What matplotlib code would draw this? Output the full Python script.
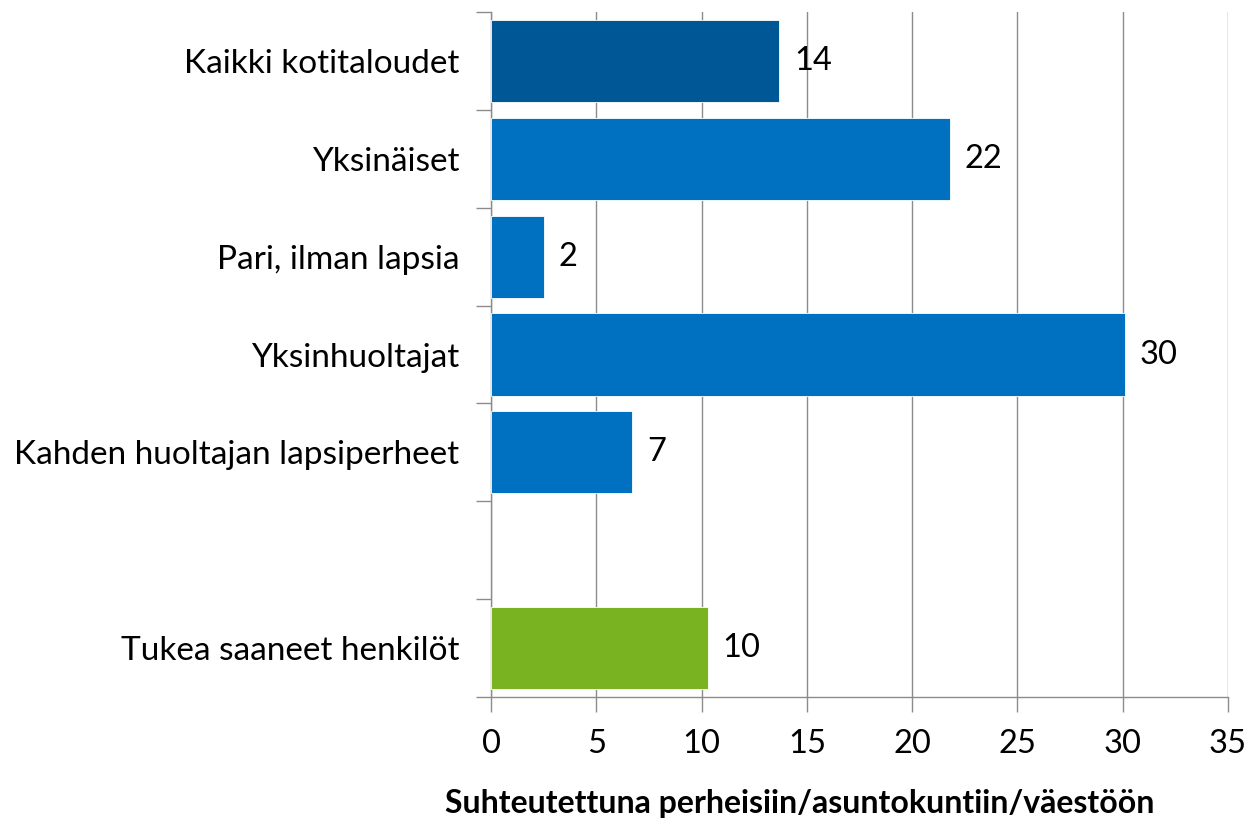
import numpy as np
import matplotlib
matplotlib.use('Agg')
import matplotlib.pyplot as plt

# Chart data
categories = ['Kaikki kotitaloudet', 'Yksinäiset', 'Pari, ilman lapsia',
              'Yksinhuoltajat', 'Kahden huoltajan lapsiperheet', '',
              'Tukea saaneet henkilöt']
values = [13.7, 21.8, 2.5, 30.1, 6.7, np.nan, 10.3]
value_labels = ['14', '22', '2', '30', '7', '', '10']
colors = ['#005795', '#0070C0', '#0070C0', '#0070C0', '#0070C0', '#0070C0', '#7AB321']
x_ticks = [0, 5, 10, 15, 20, 25, 30, 35]
x_label = 'Suhteutettuna perheisiin/asuntokuntiin/väestöön'

def main():
    plt.rcParams['font.family'] = ['Lato', 'DejaVu Sans']

    fig = plt.figure(figsize=(12.52, 8.19), dpi=100)
    ax = fig.add_axes([0.3922, 0.149, 0.5886, 0.8363])

    y = np.arange(len(categories))
    ax.barh(y, values, height=0.84, color=colors, edgecolor='white', linewidth=0.6, zorder=3)

    # Value labels to the right of each bar
    for yi, v, lab in zip(y, values, value_labels):
        if lab:
            ax.text(v + 0.7, yi, lab, va='center', ha='left', fontsize=23.5, color='black')

    ax.set_ylim(len(categories) - 0.5, -0.5)
    ax.set_xlim(0, 35)
    ax.set_xticks(x_ticks)
    ax.set_yticks(y)
    ax.set_yticklabels(categories, fontsize=24)
    ax.set_yticks(np.arange(-0.5, len(categories)), minor=True)

    # Gridlines and spines
    ax.grid(axis='x', color='#8c8c8c', linewidth=1, zorder=0)
    for side in ['top', 'right']:
        ax.spines[side].set_visible(False)
    for side in ['left', 'bottom']:
        ax.spines[side].set_color('#8c8c8c')
        ax.spines[side].set_linewidth(1)

    ax.tick_params(axis='y', which='major', length=0, pad=23)
    ax.tick_params(axis='y', which='minor', length=11, color='#8c8c8c', width=1)
    ax.tick_params(axis='x', length=11, color='#8c8c8c', width=1, labelsize=23.5, pad=12)

    ax.set_xlabel(x_label, fontsize=23, fontweight='bold')
    ax.xaxis.set_label_coords(0.419, -0.135)

    fig.savefig('out.png', dpi=100)

if __name__ == "__main__":
    main()
